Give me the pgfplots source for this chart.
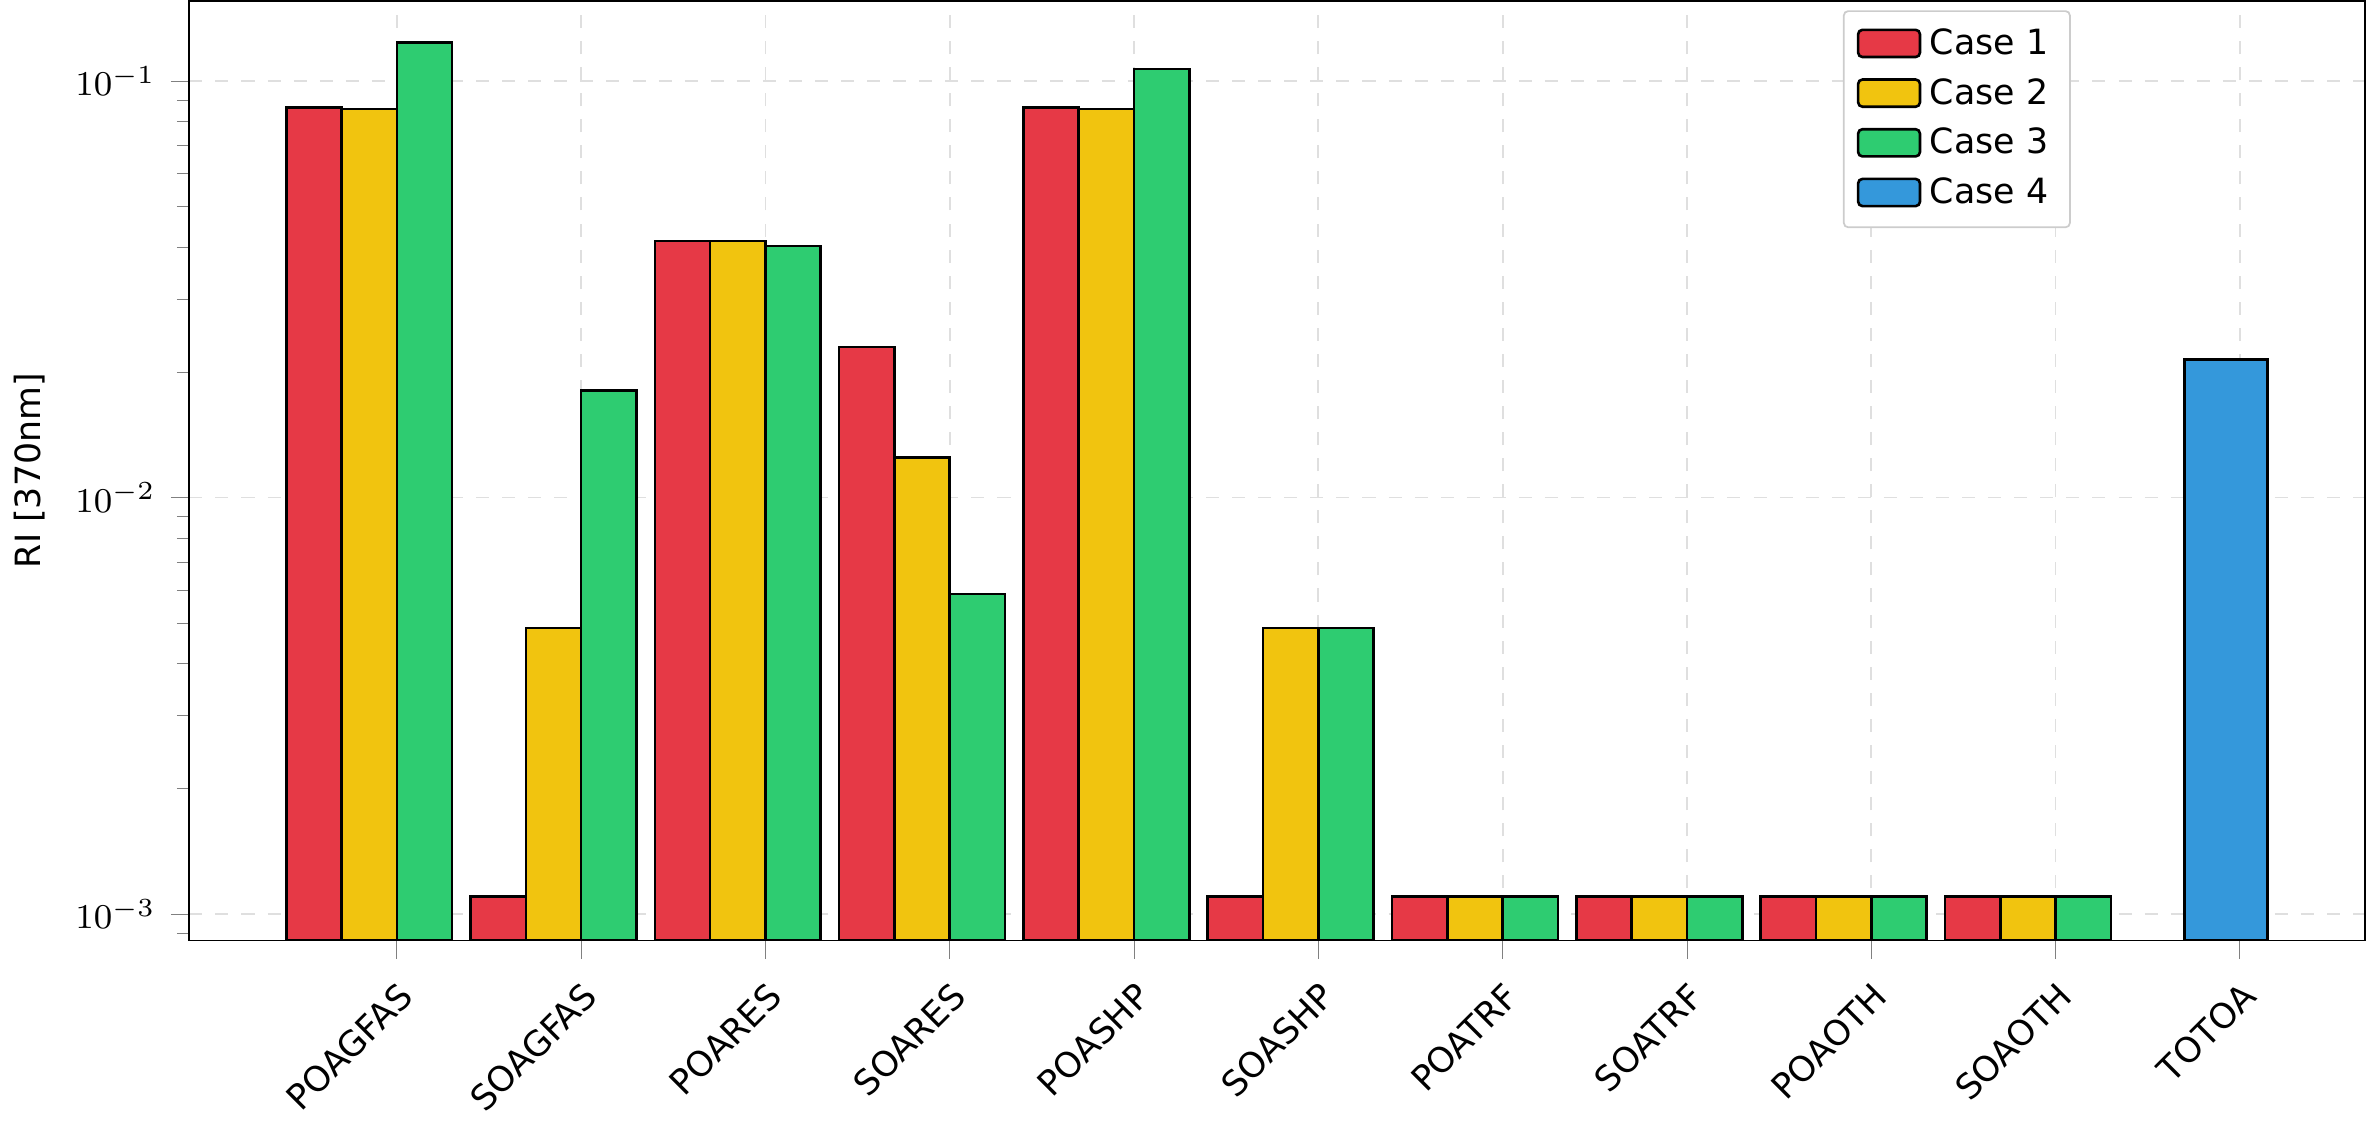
\documentclass[border=0pt]{standalone}
\usepackage{pgfplots}
\pgfplotsset{compat=1.18}
\usepackage{fontspec}
\setmainfont{DejaVu Sans}
\definecolor{cA}{HTML}{E63946}
\definecolor{cB}{HTML}{F1C40F}
\definecolor{cC}{HTML}{2ECC71}
\definecolor{cD}{HTML}{3498DB}
\begin{document}
\begin{tikzpicture}
\begin{axis}[
  scale only axis, width=17.6cm, height=7.6cm,
  ymode=log, log origin=infty,
  ymin=8.64e-4, ymax=0.156,
  xmin=-1.126, xmax=10.68,
  xtick={0,...,10},
  xticklabels={POAGFAS,SOAGFAS,POARES,SOARES,POASHP,SOASHP,POATRF,SOATRF,POAOTH,SOAOTH,TOTOA},
  xticklabel style={rotate=45, anchor=north east, font=\footnotesize},
  yticklabel style={font=\footnotesize},
  tick align=outside, tick pos=left,
  ylabel={RI [370nm]}, ylabel style={font=\footnotesize},
  grid=major, grid style={dashed, gray!25},
  ybar, bar width=0.3, bar shift=0pt,
  every axis plot/.append style={draw=black, line width=0.6pt},
  legend style={at={(0.76,0.99)}, anchor=north west, font=\footnotesize, draw=gray!40, rounded corners=1pt},
  legend cell align=left,
  legend image code/.code={\draw[#1] (0cm,-0.1cm) rectangle (0.5cm,0.12cm);},
]
\addplot[fill=cA] coordinates {(-0.45,0.0864) (0.55,0.0011) (1.55,0.0413) (2.55,0.0230) (3.55,0.0864) (4.55,0.0011) (5.55,0.0011) (6.55,0.0011) (7.55,0.0011) (8.55,0.0011)};
\addplot[fill=cB] coordinates {(-0.15,0.0857) (0.85,0.00486) (1.85,0.0413) (2.85,0.0125) (3.85,0.0857) (4.85,0.00486) (5.85,0.0011) (6.85,0.0011) (7.85,0.0011) (8.85,0.0011)};
\addplot[fill=cC] coordinates {(0.15,0.124) (1.15,0.0181) (2.15,0.0402) (3.15,0.00587) (4.15,0.107) (5.15,0.00486) (6.15,0.0011) (7.15,0.0011) (8.15,0.0011) (9.15,0.0011)};
\addplot[fill=cD, bar width=0.45] coordinates {(9.925,0.0215)};
\legend{Case 1,Case 2,Case 3,Case 4}
\end{axis}
\end{tikzpicture}
\end{document}
